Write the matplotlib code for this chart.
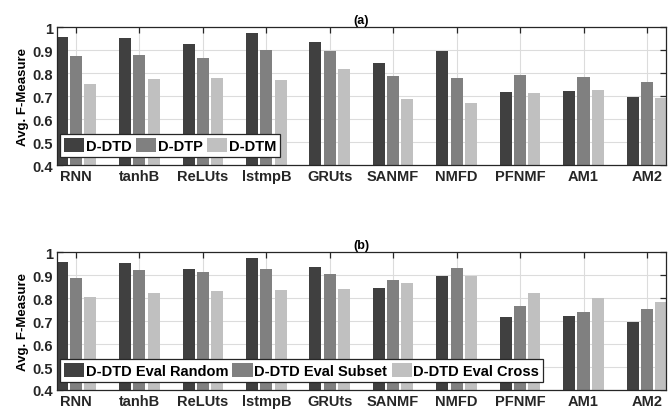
import numpy as np
import matplotlib.pyplot as plt

plt.rcParams['font.family'] = ['Liberation Sans', 'DejaVu Sans']
plt.rcParams['font.weight'] = 'bold'

methods = ['RNN', 'tanhB', 'ReLUts', 'lstmpB', 'GRUts', 'SANMF', 'NMFD', 'PFNMF', 'AM1', 'AM2']

# (a)
d_dtd = [0.957, 0.952, 0.926, 0.974, 0.935, 0.843, 0.896, 0.717, 0.722, 0.696]
d_dtp = [0.874, 0.878, 0.865, 0.900, 0.896, 0.787, 0.778, 0.791, 0.783, 0.761]
d_dtm = [0.752, 0.774, 0.778, 0.770, 0.817, 0.687, 0.670, 0.713, 0.726, 0.691]

# (b)
eval_random = [0.958, 0.953, 0.927, 0.975, 0.936, 0.845, 0.897, 0.719, 0.723, 0.697]
eval_subset = [0.888, 0.923, 0.914, 0.927, 0.906, 0.880, 0.932, 0.767, 0.740, 0.754]
eval_cross = [0.806, 0.823, 0.832, 0.836, 0.840, 0.867, 0.897, 0.823, 0.801, 0.784]

colors = ['#404040', '#808080', '#c0c0c0']
x = np.arange(1, len(methods) + 1)
w = 0.19
off = 0.225

fig = plt.figure(figsize=(6.7, 4.14), dpi=100)
ax1 = fig.add_axes([0.085, 0.599, 0.909, 0.333])
ax2 = fig.add_axes([0.085, 0.0556, 0.909, 0.333])


def draw(ax, series, labels, title):
    for i, (vals, lab) in enumerate(zip(series, labels)):
        ax.bar(x + (i - 1) * off, vals, w, color=colors[i], label=lab, zorder=2)
    ax.set_xlim(0.7, 10.3)
    ax.set_ylim(0.4, 1.0)
    ax.set_xticks(x)
    ax.set_xticklabels(methods, fontsize=10.5, fontweight='bold')
    ax.set_yticks([0.4, 0.5, 0.6, 0.7, 0.8, 0.9, 1.0])
    ax.set_yticklabels(['0.4', '0.5', '0.6', '0.7', '0.8', '0.9', '1'],
                       fontsize=10.5, fontweight='bold')
    ax.tick_params(direction='in', top=True, right=True, length=4, width=0.9,
                   colors='#262626', pad=3)
    ax.grid(True, color='#dcdcdc', linewidth=0.8, zorder=0)
    ax.set_axisbelow(True)
    for s in ax.spines.values():
        s.set_color('#262626')
        s.set_linewidth(0.9)
        s.set_zorder(5)
    ax.set_ylabel('Avg. F-Measure', fontsize=9.5, fontweight='bold', labelpad=2)
    ax.set_title(title, fontsize=9, fontweight='bold', pad=3)
    leg = ax.legend(loc='lower left', bbox_to_anchor=(0.005, 0.06), ncol=3,
                    prop={'weight': 'bold', 'size': 10.5},
                    handlelength=1.4, handleheight=1.1, handletextpad=0.1,
                    columnspacing=0.3, borderpad=0.25, borderaxespad=0,
                    fancybox=False, framealpha=1, edgecolor='#262626')
    leg.get_frame().set_linewidth(0.9)
    leg.set_zorder(6)


draw(ax1, [d_dtd, d_dtp, d_dtm], ['D-DTD', 'D-DTP', 'D-DTM'], '(a)')
draw(ax2, [eval_random, eval_subset, eval_cross],
     ['D-DTD Eval Random', 'D-DTD Eval Subset', 'D-DTD Eval Cross'], '(b)')

fig.savefig('out.png', dpi=100)
